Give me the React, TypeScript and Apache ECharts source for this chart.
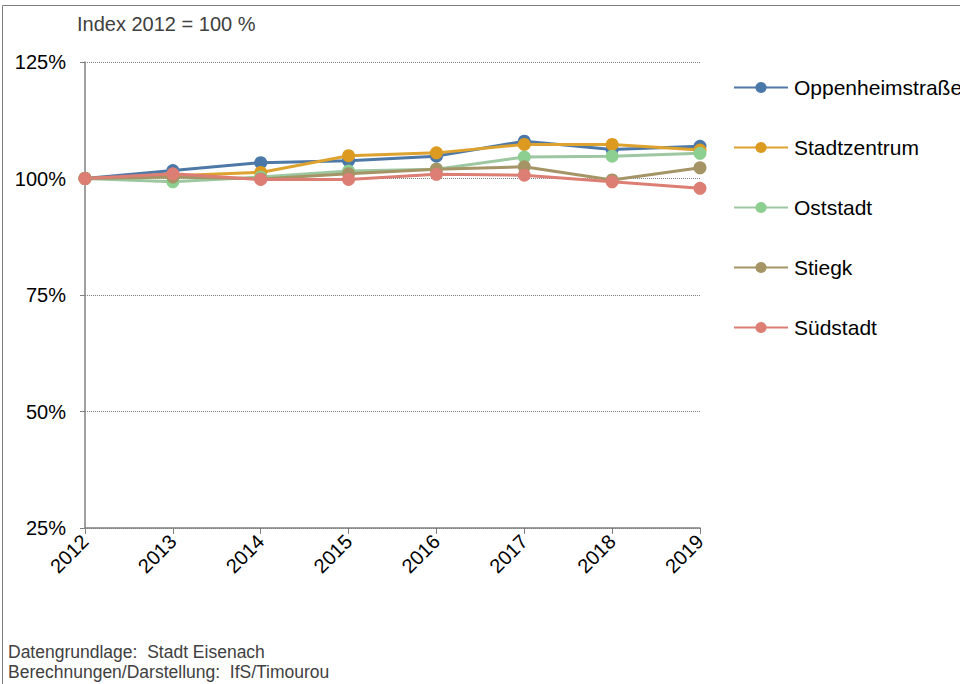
import React, { useEffect, useRef } from "react";
import * as echarts from "echarts";

const years = ["2012", "2013", "2014", "2015", "2016", "2017", "2018", "2019"];
const oppenheim = [100, 101.7, 103.4, 103.8, 104.8, 108.0, 106.2, 106.9];
const stadtzentrum = [100, 100.6, 101.3, 104.9, 105.5, 107.3, 107.3, 106.1];
const oststadt = [100, 99.3, 100.3, 101.6, 102.0, 104.6, 104.8, 105.4];
const stiegk = [100, 100.3, 99.9, 101.0, 102.0, 102.5, 99.7, 102.3];
const suedstadt = [100, 101.0, 99.8, 99.8, 100.9, 100.7, 99.3, 97.9];
const yTicks = [25, 50, 75, 100, 125];

const seriesDefs = [
  { name: "Oppenheimstraße", data: oppenheim, color: "#4a78a8", line: "#4e79a7" },
  { name: "Stadtzentrum", data: stadtzentrum, color: "#dc9b20", line: "#dea22f" },
  { name: "Oststadt", data: oststadt, color: "#8ccf91", line: "#9dc7a0" },
  { name: "Stiegk", data: stiegk, color: "#a59466", line: "#a59466" },
  { name: "Südstadt", data: suedstadt, color: "#dc7e74", line: "#dc7e74" },
];

const FONT = "Liberation Sans, Arial, sans-serif";

export default function App() {
  const ref = useRef<HTMLDivElement>(null);
  useEffect(() => {
    document.body.style.margin = "0";
    const chart = echarts.init(ref.current!, null, { renderer: "svg" });
    chart.setOption({
      animation: false,
      backgroundColor: "#ffffff",
      textStyle: { fontFamily: FONT },
      graphic: [
        {
          type: "rect",
          shape: { x: 2.5, y: 5.5, width: 970, height: 700 },
          style: { fill: "none", stroke: "#7f7f7f", lineWidth: 1 },
          silent: true,
        },
        {
          type: "text",
          left: 77,
          top: 14,
          style: { text: "Index 2012 = 100 %", font: "20px " + FONT, fill: "#404040" },
        },
        {
          type: "text",
          left: 8,
          top: 642,
          style: {
            text: "Datengrundlage:  Stadt Eisenach\nBerechnungen/Darstellung:  IfS/Timourou",
            font: "17.5px " + FONT,
            fill: "#404040",
            lineHeight: 20,
          },
        },
      ],
      legend: {
        orient: "vertical",
        left: 733,
        top: 77,
        padding: 0,
        itemWidth: 54,
        itemHeight: 14,
        itemGap: 39,
        textStyle: { fontSize: 21, color: "#000000", fontFamily: FONT, padding: [0, 0, 0, 1] },
        data: seriesDefs.map((s) => s.name),
      },
      grid: { left: 85, right: 260, top: 62, bottom: 156 },
      xAxis: {
        type: "category",
        data: years,
        boundaryGap: false,
        axisLine: { lineStyle: { color: "#808080", width: 1.5 } },
        axisTick: { show: true, length: 6, lineStyle: { color: "#808080" } },
        axisLabel: {
          rotate: 45,
          fontSize: 20,
          color: "#000000",
          fontFamily: FONT,
          margin: 10,
        },
      },
      yAxis: {
        type: "value",
        min: 25,
        max: 125,
        interval: 25,
        axisLine: { show: true, lineStyle: { color: "#808080", width: 1.5 } },
        axisTick: { show: true, length: 5, lineStyle: { color: "#808080" } },
        axisLabel: {
          formatter: (v: number) => (yTicks.includes(v) ? v + "%" : ""),
          fontSize: 20,
          color: "#000000",
          fontFamily: FONT,
          margin: 19,
        },
        splitLine: { show: true, lineStyle: { color: "#808080", type: [1, 1], width: 1 } },
      },
      series: seriesDefs.map((s) => ({
        name: s.name,
        type: "line",
        data: s.data,
        symbol: "circle",
        symbolSize: 13,
        itemStyle: { color: s.color },
        lineStyle: { color: s.line, width: 3 },
      })),
    });
    return () => chart.dispose();
  }, []);
  return <div ref={ref} style={{ width: 960, height: 684 }} />;
}
